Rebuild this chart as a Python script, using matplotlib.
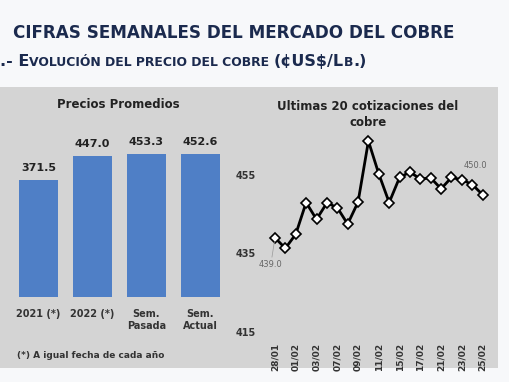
import matplotlib
matplotlib.use("Agg")
import matplotlib.pyplot as plt
from matplotlib.patches import Rectangle

# ---- data ----
bar_categories = ["2021 (*)", "2022 (*)", "Sem.\nPasada", "Sem.\nActual"]
bar_values = [371.5, 447.0, 453.3, 452.6]

dates = ["28/01", "31/01", "01/02", "02/02", "03/02", "04/02", "07/02",
         "08/02", "09/02", "10/02", "11/02", "14/02", "15/02", "16/02",
         "17/02", "18/02", "21/02", "22/02", "23/02", "24/02", "25/02"]
prices = [439.0, 436.3, 439.9, 448.0, 443.7, 447.9, 446.7, 442.5, 448.1,
          463.7, 455.3, 448.0, 454.4, 455.8, 454.0, 454.3, 451.5, 454.4,
          453.8, 452.6, 450.0]
y_ticks = [415, 435, 455]

W, H = 510, 382
fig = plt.figure(figsize=(W / 100, H / 100), dpi=100)
fig.patch.set_facecolor("#f7f8fa")

def fx(px):
    return px / W

def fy(py):
    return 1 - py / H

# gray panel background
fig.patches.append(Rectangle((fx(0), fy(368)), fx(498), (368 - 87) / H,
                             transform=fig.transFigure, facecolor="#d4d4d4",
                             edgecolor="none", zorder=-5))

navy = "#1b2a4e"
fig.text(fx(13), fy(33), "CIFRAS SEMANALES DEL MERCADO DEL COBRE",
         fontsize=12.1, fontweight="bold", color=navy, va="center", ha="left")

# small-caps subtitle
segments = [(".- E", 11.5), ("VOLUCIÓN DEL PRECIO DEL COBRE ", 8.9),
            ("(¢US$/L", 11.5), ("B", 8.9), (".)", 11.5)]
renderer = fig.canvas.get_renderer()
x = fx(0)
for s, size in segments:
    t = fig.text(x, fy(66), s, fontsize=size, fontweight="bold", color=navy,
                 va="baseline", ha="left")
    bb = t.get_window_extent(renderer=renderer)
    x += bb.width / W

# ---- bar chart ----
ax1 = fig.add_axes([fx(11.5), fy(296.7), 216 / W, 163.7 / H])
ax1.set_facecolor("none")
xs = range(len(bar_values))
ax1.bar(xs, bar_values, width=0.72, color="#4f7fc6", zorder=2)
ax1.set_xlim(-0.5, len(bar_values) - 0.5)
ax1.set_ylim(0, 520)
for xi, v in zip(xs, bar_values):
    ax1.annotate(f"{v:.1f}", (xi, v), xytext=(0, 5), textcoords="offset points",
                 ha="center", va="bottom", fontsize=8, fontweight="bold",
                 color="#222222")
ax1.set_xticks(list(xs))
ax1.set_xticklabels(bar_categories, fontsize=7, fontweight="bold", color="#333333",
                    linespacing=1.2, va="top")
ax1.tick_params(axis="x", length=0, pad=9)
ax1.set_yticks([])
for sp in ax1.spines.values():
    sp.set_visible(False)
fig.text(fx(118), fy(104), "Precios Promedios", ha="center", va="center",
         fontsize=8.5, fontweight="bold", color="#222222")
fig.text(fx(17), fy(356), "(*) A igual fecha de cada año", ha="left",
         va="center", fontsize=6.5, fontweight="bold", color="#333333")

# ---- line chart ----
ax2 = fig.add_axes([fx(264.6), fy(331.7), (493 - 264.6) / W, 215.3 / H])
ax2.set_facecolor("none")
xi = list(range(len(prices)))
ax2.plot(xi, prices, color="black", lw=2, marker="D", markersize=5,
         markerfacecolor="white", markeredgecolor="black", markeredgewidth=1.2,
         zorder=3)
ax2.set_xlim(-1, len(prices))
ax2.set_ylim(415, 470)
ax2.set_yticks(y_ticks)
ax2.set_yticklabels([str(t) for t in y_ticks], fontsize=7, fontweight="bold",
                    color="#333333")
ax2.tick_params(axis="y", length=0, pad=6)
ax2.set_xticks(xi[::2])
ax2.set_xticklabels(dates[::2], rotation=90, fontsize=6.5, fontweight="bold",
                    color="#333333")
ax2.tick_params(axis="x", length=0, pad=8)
for sp in ax2.spines.values():
    sp.set_visible(False)
ax2.annotate(f"{prices[0]:.1f}", (xi[0], prices[0]), xytext=(-3, -16),
             textcoords="offset points", ha="center", va="top", fontsize=6,
             color="#666666",
             arrowprops=dict(arrowstyle="-", color="#999999", lw=0.5,
                             shrinkA=0, shrinkB=3))
ax2.annotate(f"{prices[-1]:.1f}", (xi[-1], prices[-1]), xytext=(-5, 18),
             textcoords="offset points", ha="center", va="bottom", fontsize=6,
             color="#666666")
fig.text(fx(368), fy(115), "Ultimas 20 cotizaciones del\ncobre", ha="center",
         va="center", fontsize=8.5, fontweight="bold", color="#222222",
         linespacing=1.3)

fig.savefig("out.png", dpi=100, facecolor=fig.get_facecolor())
